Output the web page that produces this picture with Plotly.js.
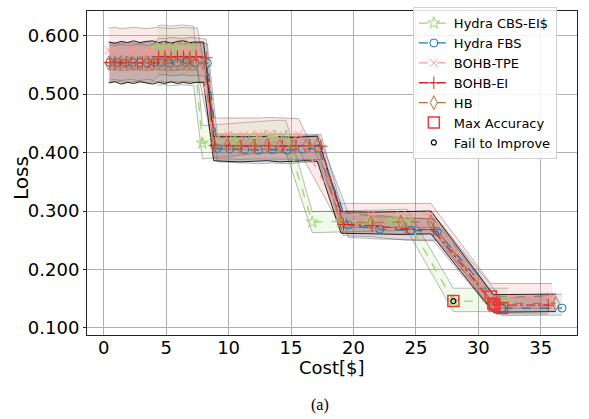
<!DOCTYPE html>
<html>
<head>
<meta charset="utf-8">
<script src="https://cdn.plot.ly/plotly-3.0.1.min.js"></script>
<style>html,body{margin:0;padding:0;background:#fff;}#chart{width:589px;height:419px;}</style>
</head>
<body>
<div id="chart"></div>
<script>
// ---------- data ----------
const seriesNames = ["Hydra CBS-EI$", "Hydra FBS", "BOHB-TPE", "BOHB-EI", "HB"];

// Hydra CBS-EI$
const cbsX  = [4.3,4.8,5.3,5.8,6.3,6.8,7.2, 7.9, 9.2,10.5,12.0,12.9,13.7,14.6, 16.7,19.0,21.3,23.2,24.3, 28.0,32.4];
const cbsY  = [0.578,0.579,0.577,0.578,0.579,0.578,0.577, 0.416, 0.419,0.421,0.426,0.427,0.428,0.428, 0.281,0.282,0.283,0.285,0.285, 0.146,0.146];
const cbsLo = [0.515,0.516,0.514,0.515,0.516,0.515,0.514, 0.389, 0.392,0.394,0.398,0.399,0.400,0.400, 0.263,0.264,0.265,0.267,0.267, 0.128,0.128];
const cbsHi = [0.617,0.618,0.616,0.617,0.618,0.617,0.616, 0.446, 0.448,0.450,0.453,0.454,0.455,0.455, 0.299,0.300,0.301,0.303,0.303, 0.168,0.168];

// Hydra FBS
const fbsX  = [0.5,1.1,1.7,2.3,2.9,3.5,4.1,4.6,5.2,5.9,6.6,7.3,8.3, 9.1,10.1,11.3,12.4,13.5,14.7,15.9,17.2, 19.6,22.1,24.6,26.7, 31.9,36.7];
const fbsY  = [0.554,0.554,0.553,0.554,0.554,0.553,0.554,0.554,0.553,0.554,0.554,0.553,0.553, 0.407,0.406,0.405,0.404,0.405,0.404,0.406,0.407, 0.276,0.269,0.267,0.265, 0.134,0.134];
const fbsLo = [0.521,0.522,0.520,0.521,0.522,0.520,0.521,0.522,0.520,0.521,0.522,0.520,0.521, 0.384,0.383,0.382,0.381,0.382,0.381,0.383,0.384, 0.255,0.252,0.251,0.250, 0.121,0.122];
const fbsHi = [0.587,0.586,0.588,0.587,0.586,0.588,0.587,0.586,0.588,0.587,0.586,0.588,0.586, 0.429,0.428,0.428,0.427,0.428,0.427,0.429,0.430, 0.296,0.290,0.288,0.286, 0.150,0.158];

// BOHB-TPE
const tpeX  = [0.4,0.9,1.4,1.9,2.4,2.9,3.4,3.9,4.4,4.9,5.4,5.9,6.4,6.9,7.5, 8.8,10.0,11.2,12.4,13.3,14.4,15.6, 19.0,21.4,23.8,26.2, 31.0,35.9];
const tpeY  = [0.575,0.576,0.574,0.575,0.576,0.575,0.574,0.575,0.576,0.575,0.574,0.575,0.576,0.575,0.575, 0.431,0.431,0.430,0.431,0.432,0.431,0.431, 0.294,0.294,0.293,0.294, 0.154,0.154];
const tpeLo = [0.541,0.542,0.540,0.541,0.542,0.541,0.540,0.541,0.542,0.541,0.540,0.541,0.542,0.541,0.541, 0.405,0.405,0.404,0.405,0.406,0.405,0.405, 0.272,0.272,0.271,0.272, 0.134,0.134];
const tpeHi = [0.613,0.614,0.612,0.613,0.614,0.613,0.612,0.613,0.614,0.613,0.612,0.613,0.614,0.613,0.613, 0.459,0.459,0.458,0.459,0.460,0.459,0.458, 0.313,0.313,0.312,0.313, 0.176,0.176];

// BOHB-EI
const eiX  = [0.5,0.9,1.3,1.8,2.2,2.7,3.1,3.6,4.0, 4.4,4.9,5.4,5.9,6.4,6.9,7.4,8.2, 8.9,10.0,11.0,12.1,13.2,14.3,15.4,16.5,17.4, 19.2,21.5,24.2,26.4, 31.3,35.6];
const eiY  = [0.554,0.554,0.553,0.554,0.554,0.553,0.554,0.554,0.553, 0.564,0.564,0.563,0.564,0.564,0.563,0.564,0.562, 0.412,0.412,0.411,0.412,0.412,0.411,0.412,0.412,0.411, 0.277,0.275,0.269,0.268, 0.139,0.139];
const eiLo = [0.524,0.525,0.523,0.524,0.525,0.523,0.524,0.525,0.523, 0.532,0.533,0.531,0.532,0.533,0.531,0.532,0.530, 0.389,0.389,0.388,0.389,0.389,0.388,0.389,0.389,0.388, 0.258,0.256,0.250,0.249, 0.124,0.124];
const eiHi = [0.584,0.583,0.585,0.584,0.583,0.585,0.584,0.583,0.585, 0.596,0.595,0.597,0.596,0.595,0.597,0.596,0.594, 0.432,0.432,0.431,0.432,0.432,0.431,0.432,0.432,0.431, 0.296,0.294,0.288,0.287, 0.154,0.154];

// HB
const hbX  = [0.4,0.9,1.4,1.9,2.4,2.9,3.4,3.9,4.4,4.9,5.4,5.9,6.4,6.9,7.4,8.0, 8.8,9.9,10.9,12.0,13.1,14.1,15.2,16.2,17.1, 19.0,21.4,23.8,26.2, 31.2,36.2];
const hbY  = [0.553,0.552,0.554,0.553,0.552,0.553,0.554,0.552,0.553,0.554,0.553,0.552,0.553,0.554,0.553,0.553, 0.412,0.411,0.410,0.411,0.412,0.411,0.410,0.411,0.412, 0.281,0.280,0.281,0.281, 0.142,0.142];
const hbLo = [0.519,0.521,0.517,0.520,0.518,0.521,0.519,0.517,0.520,0.518,0.521,0.518,0.520,0.518,0.520,0.520, 0.386,0.385,0.384,0.385,0.386,0.384,0.385,0.386,0.385, 0.262,0.261,0.260,0.261, 0.127,0.128];
const hbHi = [0.589,0.587,0.590,0.588,0.591,0.588,0.590,0.591,0.588,0.590,0.587,0.590,0.591,0.588,0.589,0.589, 0.427,0.427,0.426,0.427,0.428,0.427,0.426,0.427,0.428, 0.299,0.298,0.299,0.300, 0.157,0.158];

// Max accuracy markers and fail-to-improve markers
const maxAccX = [28.0, 31.0, 31.2, 31.3, 31.9];
const maxAccY = [0.146, 0.154, 0.142, 0.139, 0.134];
const failX = [28.0];
const failY = [0.146];

// axis ticks
const xTicks = [0, 5, 10, 15, 20, 25, 30, 35];
const yTicks = [0.1, 0.2, 0.3, 0.4, 0.5, 0.6];

// ---------- styling ----------
const styles = [
  {x: cbsX, y: cbsY, lo: cbsLo, hi: cbsHi, color: "#9dd46c", fill: "rgba(170,215,130,0.16)", sym: "star-open", size: 9, dash: "dash"},
  {x: fbsX, y: fbsY, lo: fbsLo, hi: fbsHi, color: "#1f77b4", fill: "rgba(31,119,180,0.12)", sym: "circle-open", size: 8, dash: "dash"},
  {x: tpeX, y: tpeY, lo: tpeLo, hi: tpeHi, color: "#ff9896", fill: "rgba(240,150,150,0.2)", sym: "x-thin-open", size: 8, dash: "dash"},
  {x: eiX,  y: eiY,  lo: eiLo,  hi: eiHi,  color: "#d62728", fill: "rgba(200,60,60,0.12)", sym: "cross-thin-open", size: 9, dash: "dashdot"},
  {x: hbX,  y: hbY,  lo: hbLo,  hi: hbHi,  color: "#c0703a", fill: "rgba(130,60,40,0.26)", sym: "diamond-tall-open", size: 10, dash: "dash"}
];

const traces = [];
styles.forEach((s, i) => {
  const edge = i === 4 ? "rgba(0,0,0,0.85)" : "rgba(60,60,60,0.5)";
  const ew = i === 4 ? 1.0 : 0.7;
  traces.push({x: s.x, y: s.lo, type: "scatter", mode: "lines", line: {color: edge, width: ew}, showlegend: false, hoverinfo: "skip"});
  traces.push({x: s.x, y: s.hi, type: "scatter", mode: "lines", fill: "tonexty", fillcolor: s.fill, line: {color: edge, width: ew}, showlegend: false, hoverinfo: "skip"});
});
styles.forEach((s, i) => {
  traces.push({
    x: s.x, y: s.y, type: "scatter", mode: "lines+markers", name: seriesNames[i],
    line: {color: s.color, width: 1.3, dash: s.dash},
    marker: {symbol: s.sym, size: s.size, color: s.color, line: {color: s.color, width: 1}}
  });
});
traces.push({x: maxAccX, y: maxAccY, type: "scatter", mode: "markers", name: "Max Accuracy",
  marker: {symbol: "square-open", size: 11, color: "#e8393a", line: {color: "#e8393a", width: 1.5}}});
traces.push({x: failX, y: failY, type: "scatter", mode: "markers", name: "Fail to Improve",
  marker: {symbol: "circle-open", size: 5, color: "#000", line: {color: "#000", width: 1.2}}});

const font = "DejaVu Sans, sans-serif";
const layout = {
  width: 589, height: 419,
  margin: {l: 87, r: 12, t: 7, b: 84},
  paper_bgcolor: "#fff", plot_bgcolor: "#fff",
  showlegend: true,
  legend: {x: 0.665, y: 1.012, xanchor: "left", yanchor: "top", traceorder: "normal",
    bgcolor: "rgba(255,255,255,0.85)", bordercolor: "#d0d0d0", borderwidth: 1,
    font: {family: font, size: 13, color: "#000"}, itemwidth: 30, tracegroupgap: 0},
  xaxis: {range: [-1.34, 37.9], tickvals: xTicks, ticktext: xTicks.map(String),
    showgrid: true, gridcolor: "#b0b0b0", gridwidth: 1, zeroline: false,
    showline: true, linecolor: "#222", linewidth: 1, mirror: true,
    ticks: "", ticklabelstandoff: -4,
    tickfont: {family: font, size: 18, color: "#000"}},
  yaxis: {range: [0.088, 0.642], tickvals: yTicks, ticktext: yTicks.map(v => v.toFixed(3)),
    showgrid: true, gridcolor: "#b0b0b0", gridwidth: 1, zeroline: false,
    showline: true, linecolor: "#222", linewidth: 1, mirror: true,
    ticks: "outside", ticklen: 3, tickcolor: "#222",
    tickfont: {family: font, size: 18, color: "#000"}},
  annotations: [
    {text: "Cost[$]", xref: "paper", yref: "paper", x: 0.5, y: -0.1,
      xanchor: "center", yanchor: "middle", showarrow: false,
      font: {family: font, size: 18, color: "#000"}},
    {text: "Loss", xref: "paper", yref: "paper", x: -0.135, y: 0.484, textangle: -90,
      xanchor: "center", yanchor: "middle", showarrow: false,
      font: {family: font, size: 20, color: "#000"}},
    {text: "(a)", xref: "paper", yref: "paper", x: 0.4755, y: -0.216,
      xanchor: "center", yanchor: "middle", showarrow: false,
      font: {family: "Liberation Serif, Times New Roman, serif", size: 16, color: "#000"}}]
};

Plotly.newPlot("chart", traces, layout, {displayModeBar: false, staticPlot: true});
</script>
</body>
</html>
